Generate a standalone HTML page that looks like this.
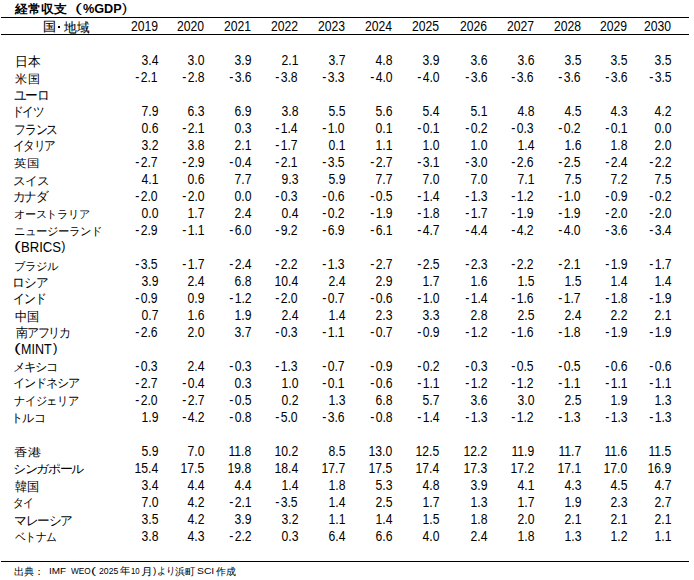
<!DOCTYPE html><html><head><meta charset="utf-8"><style>html,body{margin:0;padding:0;background:#fff;}
body{width:694px;height:580px;position:relative;overflow:hidden;font-family:"Liberation Sans",sans-serif;color:#000;}
.l{position:absolute;left:1px;width:688px;height:1px;background:#000;}
.p{position:absolute;line-height:17px;white-space:nowrap;transform-origin:0 0;}
.n{position:absolute;font-size:14px;line-height:17px;white-space:nowrap;transform:scaleX(0.87);transform-origin:100% 0;text-align:right;}
.m{margin-right:1.5px}
.c0{right:536px}
.c1{right:489.5px}
.c2{right:442.5px}
.c3{right:396px}
.c4{right:349px}
.c5{right:301.5px}
.c6{right:254.5px}
.c7{right:206.5px}
.c8{right:160px}
.c9{right:113px}
.c10{right:66.5px}
.c11{right:22.700000000000045px}</style></head><body>
<div style="position:absolute;left:58px;top:26px;width:2px;height:2px;background:#000"></div>
<div class="l" style="top:17px"></div><div class="l" style="top:34px"></div><div class="l" style="top:561px"></div>
<div class="p" style="left:15.11px;top:53.89px;font-size:12.5px;transform:scale(0.9957,1.0083)">日本</div>
<div class="p" style="left:14.90px;top:71.23px;font-size:12.5px;transform:scale(0.9680,0.9667)">米国</div>
<div class="p" style="left:14.29px;top:86.73px;font-size:13.5px;letter-spacing:-1.5px;transform:scale(0.9111,1.0056)">ユーロ</div>
<div class="p" style="left:12.10px;top:103.94px;font-size:13.5px;letter-spacing:-1.5px;transform:scale(0.8394,0.9375)">ドイツ</div>
<div class="p" style="left:13.88px;top:122.06px;font-size:13.5px;letter-spacing:-1.5px;transform:scale(0.8625,0.9455)">フランス</div>
<div class="p" style="left:13.22px;top:137.94px;font-size:13.5px;letter-spacing:-1.5px;transform:scale(0.8388,0.9375)">イタリア</div>
<div class="p" style="left:13.89px;top:156.31px;font-size:12.5px;transform:scale(1.0083,0.8923)">英国</div>
<div class="p" style="left:13.00px;top:172.50px;font-size:13.5px;letter-spacing:-1.5px;transform:scale(0.9514,0.9000)">スイス</div>
<div class="p" style="left:13.10px;top:188.84px;font-size:13.5px;letter-spacing:-1.5px;transform:scale(0.9000,0.9308)">カナダ</div>
<div class="p" style="left:14.14px;top:207.25px;font-size:13.5px;letter-spacing:-1.5px;transform:scale(0.8621,0.8500)">オーストラリア</div>
<div class="p" style="left:14.12px;top:223.75px;font-size:13.5px;letter-spacing:-1.5px;transform:scale(0.8808,0.8500)">ニュージーランド</div>
<div class="p" style="left:14.00px;top:238.00px;font-size:12.5px;transform:scaleX(1.6000)">(</div>
<div class="p" style="left:21.20px;top:238.50px;font-size:14.5px;transform:scaleX(0.9047)">BRICS</div>
<div class="p" style="left:61.30px;top:238.00px;font-size:12.5px;transform:scaleX(1.0000)">)</div>
<div class="p" style="left:14.02px;top:258.50px;font-size:13.5px;letter-spacing:-1.5px;transform:scale(0.8824,0.8500)">ブラジル</div>
<div class="p" style="left:12.05px;top:274.05px;font-size:13.5px;letter-spacing:-1.5px;transform:scale(0.9514,0.9818)">ロシア</div>
<div class="p" style="left:13.17px;top:290.65px;font-size:13.5px;letter-spacing:-1.5px;transform:scale(0.8629,0.9500)">インド</div>
<div class="p" style="left:15.15px;top:308.69px;font-size:12.5px;transform:scale(0.9458,1.0083)">中国</div>
<div class="p" style="left:15.60px;top:325.14px;font-size:13.5px;letter-spacing:-1.5px;transform:scale(0.8613,0.9308)">南アフリカ</div>
<div class="p" style="left:14.00px;top:340.00px;font-size:12.5px;transform:scaleX(1.6000)">(</div>
<div class="p" style="left:20.84px;top:340.50px;font-size:14.5px;transform:scaleX(0.8618)">MINT</div>
<div class="p" style="left:52.80px;top:340.00px;font-size:12.5px;transform:scaleX(1.0750)">)</div>
<div class="p" style="left:13.33px;top:360.20px;font-size:13.5px;letter-spacing:-1.5px;transform:scale(0.8830,0.8667)">メキシコ</div>
<div class="p" style="left:13.35px;top:376.40px;font-size:13.5px;letter-spacing:-1.5px;transform:scale(0.8770,0.8667)">インドネシア</div>
<div class="p" style="left:14.23px;top:392.73px;font-size:13.5px;letter-spacing:-1.5px;transform:scale(0.8653,0.9250)">ナイジェリア</div>
<div class="p" style="left:11.37px;top:410.29px;font-size:13.5px;letter-spacing:-1.5px;transform:scale(0.9065,0.9042)">トルコ</div>
<div class="p" style="left:14.15px;top:446.23px;font-size:12.5px;transform:scale(1.0542,0.8667)">香港</div>
<div class="p" style="left:13.33px;top:462.00px;font-size:13.5px;letter-spacing:-1.5px;transform:scale(0.9333,0.8667)">シンガポール</div>
<div class="p" style="left:15.10px;top:478.88px;font-size:12.5px;transform:scale(0.9600,1.0250)">韓国</div>
<div class="p" style="left:13.46px;top:494.65px;font-size:13.5px;letter-spacing:-1.5px;transform:scale(0.8217,0.9167)">タイ</div>
<div class="p" style="left:14.18px;top:512.96px;font-size:13.5px;letter-spacing:-1.5px;transform:scale(0.9210,0.9455)">マレーシア</div>
<div class="p" style="left:15.10px;top:528.65px;font-size:13.5px;letter-spacing:-1.5px;transform:scale(0.8275,0.9167)">ベトナム</div>
<div class="p" style="left:15.00px;top:1.00px;font-weight:bold;font-size:12px;transform:scaleX(1.0729)">経常収支</div>
<div class="p" style="left:75.33px;top:0.00px;font-size:12.5px;transform:scaleX(1.6667)">(</div>
<div class="p" style="left:82.75px;top:-0.10px;font-weight:bold;font-size:13.7px;transform:scaleX(0.9250)">%GDP</div>
<div class="p" style="left:122.00px;top:0.00px;font-size:12.5px;transform:scaleX(1.2500)">)</div>
<div class="p" style="left:42.90px;top:19.20px;font-size:12.5px;-webkit-text-stroke:0.12px #000;transform:scaleX(1.0045)">国</div>
<div class="p" style="left:64.10px;top:20.10px;font-size:12.5px;-webkit-text-stroke:0.12px #000;transform:scaleX(0.9692)">地域</div>
<div class="p" style="left:13.73px;top:563.20px;font-size:9.5px;transform:scaleX(1.0180)">出典：</div>
<div class="p" style="left:48.77px;top:561.80px;font-size:9.6px;transform:scaleX(1.0333)">IMF</div>
<div class="p" style="left:70.90px;top:561.80px;font-size:9.6px;transform:scaleX(0.8609)">WEO</div>
<div class="p" style="left:91.35px;top:562.20px;font-size:9.6px;transform:scaleX(1.5500)">(</div>
<div class="p" style="left:98.50px;top:561.80px;font-size:9.6px;transform:scaleX(0.9048)">2025</div>
<div class="p" style="left:120.00px;top:562.20px;font-size:9.5px;transform:scaleX(1.0222)">年</div>
<div class="p" style="left:130.89px;top:561.80px;font-size:9.6px;transform:scaleX(0.8111)">10</div>
<div class="p" style="left:140.81px;top:563.20px;font-size:9.5px;transform:scaleX(1.1857)">月</div>
<div class="p" style="left:152.90px;top:562.20px;font-size:9.6px;transform:scaleX(1.0333)">)</div>
<div class="p" style="left:157.06px;top:562.20px;font-size:9.5px;transform:scaleX(0.9412)">より</div>
<div class="p" style="left:174.77px;top:563.20px;font-size:9.5px;transform:scaleX(1.0278)">浜町</div>
<div class="p" style="left:197.12px;top:561.80px;font-size:9.6px;transform:scaleX(1.0786)">SCI</div>
<div class="p" style="left:215.50px;top:563.20px;font-size:9.5px;transform:scaleX(0.9950)">作成</div>
<div class="n c0" style="top:18px">2019</div>
<div class="n c1" style="top:18px">2020</div>
<div class="n c2" style="top:18px">2021</div>
<div class="n c3" style="top:18px">2022</div>
<div class="n c4" style="top:18px">2023</div>
<div class="n c5" style="top:18px">2024</div>
<div class="n c6" style="top:18px">2025</div>
<div class="n c7" style="top:18px">2026</div>
<div class="n c8" style="top:18px">2027</div>
<div class="n c9" style="top:18px">2028</div>
<div class="n c10" style="top:18px">2029</div>
<div class="n c11" style="top:18px">2030</div>
<div class="n c0" style="top:51.5px">3.4</div>
<div class="n c1" style="top:51.5px">3.0</div>
<div class="n c2" style="top:51.5px">3.9</div>
<div class="n c3" style="top:51.5px">2.1</div>
<div class="n c4" style="top:51.5px">3.7</div>
<div class="n c5" style="top:51.5px">4.8</div>
<div class="n c6" style="top:51.5px">3.9</div>
<div class="n c7" style="top:51.5px">3.6</div>
<div class="n c8" style="top:51.5px">3.6</div>
<div class="n c9" style="top:51.5px">3.5</div>
<div class="n c10" style="top:51.5px">3.5</div>
<div class="n c11" style="top:51.5px">3.5</div>
<div class="n c0" style="top:68.5px"><span class="m">-</span>2.1</div>
<div class="n c1" style="top:68.5px"><span class="m">-</span>2.8</div>
<div class="n c2" style="top:68.5px"><span class="m">-</span>3.6</div>
<div class="n c3" style="top:68.5px"><span class="m">-</span>3.8</div>
<div class="n c4" style="top:68.5px"><span class="m">-</span>3.3</div>
<div class="n c5" style="top:68.5px"><span class="m">-</span>4.0</div>
<div class="n c6" style="top:68.5px"><span class="m">-</span>4.0</div>
<div class="n c7" style="top:68.5px"><span class="m">-</span>3.6</div>
<div class="n c8" style="top:68.5px"><span class="m">-</span>3.6</div>
<div class="n c9" style="top:68.5px"><span class="m">-</span>3.6</div>
<div class="n c10" style="top:68.5px"><span class="m">-</span>3.6</div>
<div class="n c11" style="top:68.5px"><span class="m">-</span>3.5</div>
<div class="n c0" style="top:102.5px">7.9</div>
<div class="n c1" style="top:102.5px">6.3</div>
<div class="n c2" style="top:102.5px">6.9</div>
<div class="n c3" style="top:102.5px">3.8</div>
<div class="n c4" style="top:102.5px">5.5</div>
<div class="n c5" style="top:102.5px">5.6</div>
<div class="n c6" style="top:102.5px">5.4</div>
<div class="n c7" style="top:102.5px">5.1</div>
<div class="n c8" style="top:102.5px">4.8</div>
<div class="n c9" style="top:102.5px">4.5</div>
<div class="n c10" style="top:102.5px">4.3</div>
<div class="n c11" style="top:102.5px">4.2</div>
<div class="n c0" style="top:119.5px">0.6</div>
<div class="n c1" style="top:119.5px"><span class="m">-</span>2.1</div>
<div class="n c2" style="top:119.5px">0.3</div>
<div class="n c3" style="top:119.5px"><span class="m">-</span>1.4</div>
<div class="n c4" style="top:119.5px"><span class="m">-</span>1.0</div>
<div class="n c5" style="top:119.5px">0.1</div>
<div class="n c6" style="top:119.5px"><span class="m">-</span>0.1</div>
<div class="n c7" style="top:119.5px"><span class="m">-</span>0.2</div>
<div class="n c8" style="top:119.5px"><span class="m">-</span>0.3</div>
<div class="n c9" style="top:119.5px"><span class="m">-</span>0.2</div>
<div class="n c10" style="top:119.5px"><span class="m">-</span>0.1</div>
<div class="n c11" style="top:119.5px">0.0</div>
<div class="n c0" style="top:136.5px">3.2</div>
<div class="n c1" style="top:136.5px">3.8</div>
<div class="n c2" style="top:136.5px">2.1</div>
<div class="n c3" style="top:136.5px"><span class="m">-</span>1.7</div>
<div class="n c4" style="top:136.5px">0.1</div>
<div class="n c5" style="top:136.5px">1.1</div>
<div class="n c6" style="top:136.5px">1.0</div>
<div class="n c7" style="top:136.5px">1.0</div>
<div class="n c8" style="top:136.5px">1.4</div>
<div class="n c9" style="top:136.5px">1.6</div>
<div class="n c10" style="top:136.5px">1.8</div>
<div class="n c11" style="top:136.5px">2.0</div>
<div class="n c0" style="top:153.5px"><span class="m">-</span>2.7</div>
<div class="n c1" style="top:153.5px"><span class="m">-</span>2.9</div>
<div class="n c2" style="top:153.5px"><span class="m">-</span>0.4</div>
<div class="n c3" style="top:153.5px"><span class="m">-</span>2.1</div>
<div class="n c4" style="top:153.5px"><span class="m">-</span>3.5</div>
<div class="n c5" style="top:153.5px"><span class="m">-</span>2.7</div>
<div class="n c6" style="top:153.5px"><span class="m">-</span>3.1</div>
<div class="n c7" style="top:153.5px"><span class="m">-</span>3.0</div>
<div class="n c8" style="top:153.5px"><span class="m">-</span>2.6</div>
<div class="n c9" style="top:153.5px"><span class="m">-</span>2.5</div>
<div class="n c10" style="top:153.5px"><span class="m">-</span>2.4</div>
<div class="n c11" style="top:153.5px"><span class="m">-</span>2.2</div>
<div class="n c0" style="top:170.5px">4.1</div>
<div class="n c1" style="top:170.5px">0.6</div>
<div class="n c2" style="top:170.5px">7.7</div>
<div class="n c3" style="top:170.5px">9.3</div>
<div class="n c4" style="top:170.5px">5.9</div>
<div class="n c5" style="top:170.5px">7.7</div>
<div class="n c6" style="top:170.5px">7.0</div>
<div class="n c7" style="top:170.5px">7.0</div>
<div class="n c8" style="top:170.5px">7.1</div>
<div class="n c9" style="top:170.5px">7.5</div>
<div class="n c10" style="top:170.5px">7.2</div>
<div class="n c11" style="top:170.5px">7.5</div>
<div class="n c0" style="top:187.5px"><span class="m">-</span>2.0</div>
<div class="n c1" style="top:187.5px"><span class="m">-</span>2.0</div>
<div class="n c2" style="top:187.5px">0.0</div>
<div class="n c3" style="top:187.5px"><span class="m">-</span>0.3</div>
<div class="n c4" style="top:187.5px"><span class="m">-</span>0.6</div>
<div class="n c5" style="top:187.5px"><span class="m">-</span>0.5</div>
<div class="n c6" style="top:187.5px"><span class="m">-</span>1.4</div>
<div class="n c7" style="top:187.5px"><span class="m">-</span>1.3</div>
<div class="n c8" style="top:187.5px"><span class="m">-</span>1.2</div>
<div class="n c9" style="top:187.5px"><span class="m">-</span>1.0</div>
<div class="n c10" style="top:187.5px"><span class="m">-</span>0.9</div>
<div class="n c11" style="top:187.5px"><span class="m">-</span>0.2</div>
<div class="n c0" style="top:204.5px">0.0</div>
<div class="n c1" style="top:204.5px">1.7</div>
<div class="n c2" style="top:204.5px">2.4</div>
<div class="n c3" style="top:204.5px">0.4</div>
<div class="n c4" style="top:204.5px"><span class="m">-</span>0.2</div>
<div class="n c5" style="top:204.5px"><span class="m">-</span>1.9</div>
<div class="n c6" style="top:204.5px"><span class="m">-</span>1.8</div>
<div class="n c7" style="top:204.5px"><span class="m">-</span>1.7</div>
<div class="n c8" style="top:204.5px"><span class="m">-</span>1.9</div>
<div class="n c9" style="top:204.5px"><span class="m">-</span>1.9</div>
<div class="n c10" style="top:204.5px"><span class="m">-</span>2.0</div>
<div class="n c11" style="top:204.5px"><span class="m">-</span>2.0</div>
<div class="n c0" style="top:221.5px"><span class="m">-</span>2.9</div>
<div class="n c1" style="top:221.5px"><span class="m">-</span>1.1</div>
<div class="n c2" style="top:221.5px"><span class="m">-</span>6.0</div>
<div class="n c3" style="top:221.5px"><span class="m">-</span>9.2</div>
<div class="n c4" style="top:221.5px"><span class="m">-</span>6.9</div>
<div class="n c5" style="top:221.5px"><span class="m">-</span>6.1</div>
<div class="n c6" style="top:221.5px"><span class="m">-</span>4.7</div>
<div class="n c7" style="top:221.5px"><span class="m">-</span>4.4</div>
<div class="n c8" style="top:221.5px"><span class="m">-</span>4.2</div>
<div class="n c9" style="top:221.5px"><span class="m">-</span>4.0</div>
<div class="n c10" style="top:221.5px"><span class="m">-</span>3.6</div>
<div class="n c11" style="top:221.5px"><span class="m">-</span>3.4</div>
<div class="n c0" style="top:255.5px"><span class="m">-</span>3.5</div>
<div class="n c1" style="top:255.5px"><span class="m">-</span>1.7</div>
<div class="n c2" style="top:255.5px"><span class="m">-</span>2.4</div>
<div class="n c3" style="top:255.5px"><span class="m">-</span>2.2</div>
<div class="n c4" style="top:255.5px"><span class="m">-</span>1.3</div>
<div class="n c5" style="top:255.5px"><span class="m">-</span>2.7</div>
<div class="n c6" style="top:255.5px"><span class="m">-</span>2.5</div>
<div class="n c7" style="top:255.5px"><span class="m">-</span>2.3</div>
<div class="n c8" style="top:255.5px"><span class="m">-</span>2.2</div>
<div class="n c9" style="top:255.5px"><span class="m">-</span>2.1</div>
<div class="n c10" style="top:255.5px"><span class="m">-</span>1.9</div>
<div class="n c11" style="top:255.5px"><span class="m">-</span>1.7</div>
<div class="n c0" style="top:272.5px">3.9</div>
<div class="n c1" style="top:272.5px">2.4</div>
<div class="n c2" style="top:272.5px">6.8</div>
<div class="n c3" style="top:272.5px">10.4</div>
<div class="n c4" style="top:272.5px">2.4</div>
<div class="n c5" style="top:272.5px">2.9</div>
<div class="n c6" style="top:272.5px">1.7</div>
<div class="n c7" style="top:272.5px">1.6</div>
<div class="n c8" style="top:272.5px">1.5</div>
<div class="n c9" style="top:272.5px">1.5</div>
<div class="n c10" style="top:272.5px">1.4</div>
<div class="n c11" style="top:272.5px">1.4</div>
<div class="n c0" style="top:289.5px"><span class="m">-</span>0.9</div>
<div class="n c1" style="top:289.5px">0.9</div>
<div class="n c2" style="top:289.5px"><span class="m">-</span>1.2</div>
<div class="n c3" style="top:289.5px"><span class="m">-</span>2.0</div>
<div class="n c4" style="top:289.5px"><span class="m">-</span>0.7</div>
<div class="n c5" style="top:289.5px"><span class="m">-</span>0.6</div>
<div class="n c6" style="top:289.5px"><span class="m">-</span>1.0</div>
<div class="n c7" style="top:289.5px"><span class="m">-</span>1.4</div>
<div class="n c8" style="top:289.5px"><span class="m">-</span>1.6</div>
<div class="n c9" style="top:289.5px"><span class="m">-</span>1.7</div>
<div class="n c10" style="top:289.5px"><span class="m">-</span>1.8</div>
<div class="n c11" style="top:289.5px"><span class="m">-</span>1.9</div>
<div class="n c0" style="top:306.5px">0.7</div>
<div class="n c1" style="top:306.5px">1.6</div>
<div class="n c2" style="top:306.5px">1.9</div>
<div class="n c3" style="top:306.5px">2.4</div>
<div class="n c4" style="top:306.5px">1.4</div>
<div class="n c5" style="top:306.5px">2.3</div>
<div class="n c6" style="top:306.5px">3.3</div>
<div class="n c7" style="top:306.5px">2.8</div>
<div class="n c8" style="top:306.5px">2.5</div>
<div class="n c9" style="top:306.5px">2.4</div>
<div class="n c10" style="top:306.5px">2.2</div>
<div class="n c11" style="top:306.5px">2.1</div>
<div class="n c0" style="top:323.5px"><span class="m">-</span>2.6</div>
<div class="n c1" style="top:323.5px">2.0</div>
<div class="n c2" style="top:323.5px">3.7</div>
<div class="n c3" style="top:323.5px"><span class="m">-</span>0.3</div>
<div class="n c4" style="top:323.5px"><span class="m">-</span>1.1</div>
<div class="n c5" style="top:323.5px"><span class="m">-</span>0.7</div>
<div class="n c6" style="top:323.5px"><span class="m">-</span>0.9</div>
<div class="n c7" style="top:323.5px"><span class="m">-</span>1.2</div>
<div class="n c8" style="top:323.5px"><span class="m">-</span>1.6</div>
<div class="n c9" style="top:323.5px"><span class="m">-</span>1.8</div>
<div class="n c10" style="top:323.5px"><span class="m">-</span>1.9</div>
<div class="n c11" style="top:323.5px"><span class="m">-</span>1.9</div>
<div class="n c0" style="top:357.5px"><span class="m">-</span>0.3</div>
<div class="n c1" style="top:357.5px">2.4</div>
<div class="n c2" style="top:357.5px"><span class="m">-</span>0.3</div>
<div class="n c3" style="top:357.5px"><span class="m">-</span>1.3</div>
<div class="n c4" style="top:357.5px"><span class="m">-</span>0.7</div>
<div class="n c5" style="top:357.5px"><span class="m">-</span>0.9</div>
<div class="n c6" style="top:357.5px"><span class="m">-</span>0.2</div>
<div class="n c7" style="top:357.5px"><span class="m">-</span>0.3</div>
<div class="n c8" style="top:357.5px"><span class="m">-</span>0.5</div>
<div class="n c9" style="top:357.5px"><span class="m">-</span>0.5</div>
<div class="n c10" style="top:357.5px"><span class="m">-</span>0.6</div>
<div class="n c11" style="top:357.5px"><span class="m">-</span>0.6</div>
<div class="n c0" style="top:374.5px"><span class="m">-</span>2.7</div>
<div class="n c1" style="top:374.5px"><span class="m">-</span>0.4</div>
<div class="n c2" style="top:374.5px">0.3</div>
<div class="n c3" style="top:374.5px">1.0</div>
<div class="n c4" style="top:374.5px"><span class="m">-</span>0.1</div>
<div class="n c5" style="top:374.5px"><span class="m">-</span>0.6</div>
<div class="n c6" style="top:374.5px"><span class="m">-</span>1.1</div>
<div class="n c7" style="top:374.5px"><span class="m">-</span>1.2</div>
<div class="n c8" style="top:374.5px"><span class="m">-</span>1.2</div>
<div class="n c9" style="top:374.5px"><span class="m">-</span>1.1</div>
<div class="n c10" style="top:374.5px"><span class="m">-</span>1.1</div>
<div class="n c11" style="top:374.5px"><span class="m">-</span>1.1</div>
<div class="n c0" style="top:391.5px"><span class="m">-</span>2.0</div>
<div class="n c1" style="top:391.5px"><span class="m">-</span>2.7</div>
<div class="n c2" style="top:391.5px"><span class="m">-</span>0.5</div>
<div class="n c3" style="top:391.5px">0.2</div>
<div class="n c4" style="top:391.5px">1.3</div>
<div class="n c5" style="top:391.5px">6.8</div>
<div class="n c6" style="top:391.5px">5.7</div>
<div class="n c7" style="top:391.5px">3.6</div>
<div class="n c8" style="top:391.5px">3.0</div>
<div class="n c9" style="top:391.5px">2.5</div>
<div class="n c10" style="top:391.5px">1.9</div>
<div class="n c11" style="top:391.5px">1.3</div>
<div class="n c0" style="top:408.5px">1.9</div>
<div class="n c1" style="top:408.5px"><span class="m">-</span>4.2</div>
<div class="n c2" style="top:408.5px"><span class="m">-</span>0.8</div>
<div class="n c3" style="top:408.5px"><span class="m">-</span>5.0</div>
<div class="n c4" style="top:408.5px"><span class="m">-</span>3.6</div>
<div class="n c5" style="top:408.5px"><span class="m">-</span>0.8</div>
<div class="n c6" style="top:408.5px"><span class="m">-</span>1.4</div>
<div class="n c7" style="top:408.5px"><span class="m">-</span>1.3</div>
<div class="n c8" style="top:408.5px"><span class="m">-</span>1.2</div>
<div class="n c9" style="top:408.5px"><span class="m">-</span>1.3</div>
<div class="n c10" style="top:408.5px"><span class="m">-</span>1.3</div>
<div class="n c11" style="top:408.5px"><span class="m">-</span>1.3</div>
<div class="n c0" style="top:442.5px">5.9</div>
<div class="n c1" style="top:442.5px">7.0</div>
<div class="n c2" style="top:442.5px">11.8</div>
<div class="n c3" style="top:442.5px">10.2</div>
<div class="n c4" style="top:442.5px">8.5</div>
<div class="n c5" style="top:442.5px">13.0</div>
<div class="n c6" style="top:442.5px">12.5</div>
<div class="n c7" style="top:442.5px">12.2</div>
<div class="n c8" style="top:442.5px">11.9</div>
<div class="n c9" style="top:442.5px">11.7</div>
<div class="n c10" style="top:442.5px">11.6</div>
<div class="n c11" style="top:442.5px">11.5</div>
<div class="n c0" style="top:459.5px">15.4</div>
<div class="n c1" style="top:459.5px">17.5</div>
<div class="n c2" style="top:459.5px">19.8</div>
<div class="n c3" style="top:459.5px">18.4</div>
<div class="n c4" style="top:459.5px">17.7</div>
<div class="n c5" style="top:459.5px">17.5</div>
<div class="n c6" style="top:459.5px">17.4</div>
<div class="n c7" style="top:459.5px">17.3</div>
<div class="n c8" style="top:459.5px">17.2</div>
<div class="n c9" style="top:459.5px">17.1</div>
<div class="n c10" style="top:459.5px">17.0</div>
<div class="n c11" style="top:459.5px">16.9</div>
<div class="n c0" style="top:476.5px">3.4</div>
<div class="n c1" style="top:476.5px">4.4</div>
<div class="n c2" style="top:476.5px">4.4</div>
<div class="n c3" style="top:476.5px">1.4</div>
<div class="n c4" style="top:476.5px">1.8</div>
<div class="n c5" style="top:476.5px">5.3</div>
<div class="n c6" style="top:476.5px">4.8</div>
<div class="n c7" style="top:476.5px">3.9</div>
<div class="n c8" style="top:476.5px">4.1</div>
<div class="n c9" style="top:476.5px">4.3</div>
<div class="n c10" style="top:476.5px">4.5</div>
<div class="n c11" style="top:476.5px">4.7</div>
<div class="n c0" style="top:493.5px">7.0</div>
<div class="n c1" style="top:493.5px">4.2</div>
<div class="n c2" style="top:493.5px"><span class="m">-</span>2.1</div>
<div class="n c3" style="top:493.5px"><span class="m">-</span>3.5</div>
<div class="n c4" style="top:493.5px">1.4</div>
<div class="n c5" style="top:493.5px">2.5</div>
<div class="n c6" style="top:493.5px">1.7</div>
<div class="n c7" style="top:493.5px">1.3</div>
<div class="n c8" style="top:493.5px">1.7</div>
<div class="n c9" style="top:493.5px">1.9</div>
<div class="n c10" style="top:493.5px">2.3</div>
<div class="n c11" style="top:493.5px">2.7</div>
<div class="n c0" style="top:510.5px">3.5</div>
<div class="n c1" style="top:510.5px">4.2</div>
<div class="n c2" style="top:510.5px">3.9</div>
<div class="n c3" style="top:510.5px">3.2</div>
<div class="n c4" style="top:510.5px">1.1</div>
<div class="n c5" style="top:510.5px">1.4</div>
<div class="n c6" style="top:510.5px">1.5</div>
<div class="n c7" style="top:510.5px">1.8</div>
<div class="n c8" style="top:510.5px">2.0</div>
<div class="n c9" style="top:510.5px">2.1</div>
<div class="n c10" style="top:510.5px">2.1</div>
<div class="n c11" style="top:510.5px">2.1</div>
<div class="n c0" style="top:527.5px">3.8</div>
<div class="n c1" style="top:527.5px">4.3</div>
<div class="n c2" style="top:527.5px"><span class="m">-</span>2.2</div>
<div class="n c3" style="top:527.5px">0.3</div>
<div class="n c4" style="top:527.5px">6.4</div>
<div class="n c5" style="top:527.5px">6.6</div>
<div class="n c6" style="top:527.5px">4.0</div>
<div class="n c7" style="top:527.5px">2.4</div>
<div class="n c8" style="top:527.5px">1.8</div>
<div class="n c9" style="top:527.5px">1.3</div>
<div class="n c10" style="top:527.5px">1.2</div>
<div class="n c11" style="top:527.5px">1.1</div>
</body></html>
